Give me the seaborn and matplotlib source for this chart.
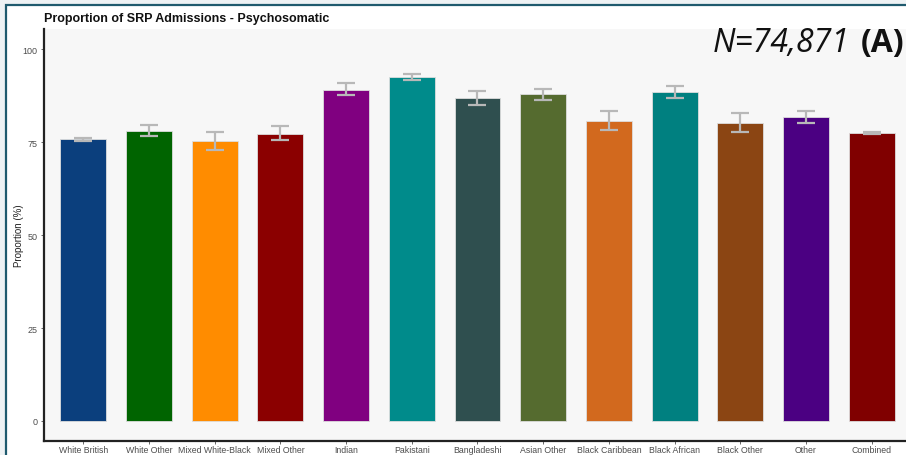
import matplotlib
matplotlib.use("Agg")
import matplotlib.pyplot as plt
import seaborn as sns
import pandas as pd
from matplotlib.patches import Rectangle

categories = ["White British", "White Other", "Mixed White-Black", "Mixed Other", "Indian",
              "Pakistani", "Bangladeshi", "Asian Other", "Black Caribbean", "Black African",
              "Black Other", "Other", "Combined"]
proportion = [75.8, 78.1, 75.4, 77.3, 89.2, 92.6, 86.8, 87.9, 80.8, 88.5, 80.3, 81.8, 77.6]
ci_low = [75.4, 76.7, 73.0, 75.5, 87.7, 91.8, 85.0, 86.3, 78.3, 86.9, 77.8, 80.2, 77.3]
ci_high = [76.2, 79.6, 77.8, 79.3, 90.9, 93.4, 88.7, 89.4, 83.4, 90.1, 82.9, 83.5, 77.9]
colors = ["#0b3f7d", "#006400", "#ff8c00", "#8b0000", "#800080", "#008b8b", "#2f4f4f",
          "#556b2f", "#d2691e", "#008080", "#8b4513", "#4b0082", "#800000"]
yticks = [0, 25, 50, 75, 100]

df = pd.DataFrame({"cat": categories, "prop": proportion})

sns.set_theme(style="white")
plt.rcParams["font.family"] = ["Liberation Sans", "DejaVu Sans"]

fig = plt.figure(figsize=(9.06, 4.56), dpi=100)
fig.patch.set_facecolor("#eef2f4")
W, H = 906, 456
# white card with teal frame
fig.add_artist(Rectangle((6 / W, -0.01), 1 - 6 / W + 0.01, 1 - 6 / H + 0.01, transform=fig.transFigure,
                         facecolor="white", edgecolor="#1f5a6e", linewidth=1.6, zorder=0))

ax = fig.add_axes([44 / W, (H - 442) / H, (911 - 44) / W, (442 - 30) / H])
ax.set_facecolor("#f7f7f7")
sns.barplot(data=df, x="cat", y="prop", hue="cat", palette=colors, legend=False,
            width=0.7, ax=ax, saturation=1, linewidth=0.6, edgecolor="#dddddd")

xs = list(range(len(categories)))
err_lo = [p - l for p, l in zip(proportion, ci_low)]
err_hi = [h - p for p, h in zip(proportion, ci_high)]
ax.errorbar(xs, proportion, yerr=[err_lo, err_hi], fmt="none", ecolor="#b8b8b8",
            elinewidth=1.6, capsize=6.5, capthick=1.6, zorder=5)

ax.set_xlim(-0.6, 12.6)
ax.set_ylim(-5.4, 105.5)
ax.set_yticks(yticks)
ax.set_yticklabels([str(t) for t in yticks])
ax.tick_params(axis="y", labelsize=6.5, colors="#4d4d4d", length=2.5, width=0.6,
               left=True, pad=2)
ax.tick_params(axis="x", labelsize=6.3, colors="#4d4d4d", length=2, width=0.6,
               bottom=True, pad=1)
ax.set_xlabel("")
ax.set_ylabel("Proportion (%)", fontsize=7, color="#222222")
ax.yaxis.set_label_coords(-20 / (911 - 44), 0.5)
for s in ["top", "right"]:
    ax.spines[s].set_visible(False)
for s in ["left", "bottom"]:
    ax.spines[s].set_color("#222222")
    ax.spines[s].set_linewidth(1.6)

fig.text(44 / W, 1 - 19 / H, "Proportion of SRP Admissions - Psychosomatic", fontsize=9,
         fontweight="bold", color="#111111", va="center", ha="left")

fig.text(904 / W, 1 - 52 / H, "(A)", fontsize=23, fontweight="bold",
         family=["Open Sans", "DejaVu Sans"], ha="right", va="baseline", color="#111111")
fig.text(850 / W, 1 - 52 / H, "N=74,871", fontsize=23, style="italic",
         family=["Open Sans", "DejaVu Sans"], ha="right", va="baseline", color="#111111")

fig.savefig("out.png", dpi=100, facecolor=fig.get_facecolor())
